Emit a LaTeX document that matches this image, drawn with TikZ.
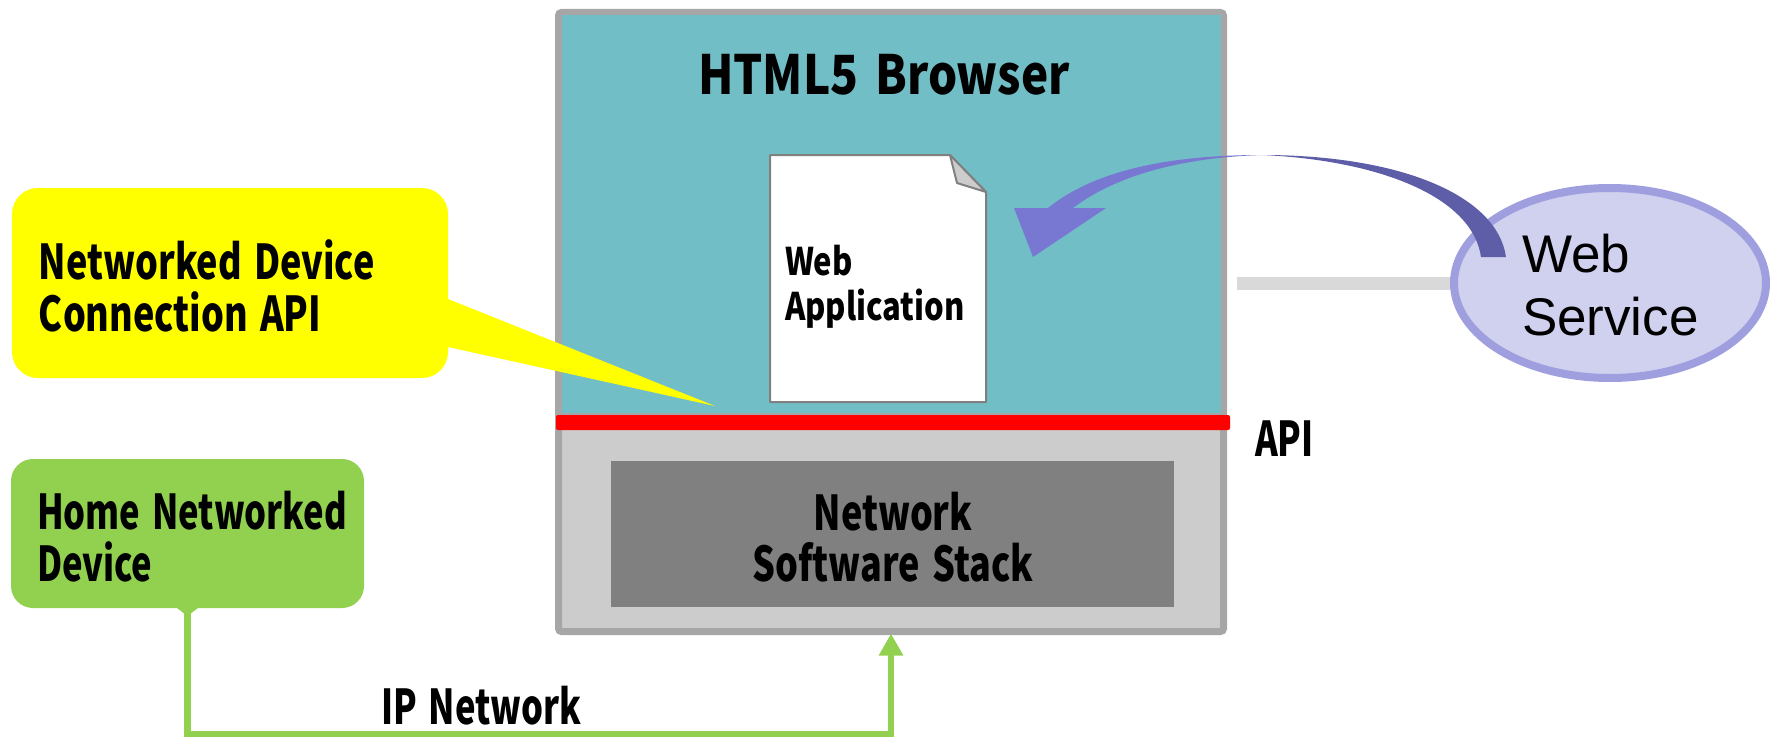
\documentclass[tikz,border=0pt]{standalone}
\usepackage{fontspec}
\setmainfont{Liberation Sans}
\newfontfamily\gothic[FakeStretch=0.75,WordSpace=1.5]{Noto Sans CJK JP}
\newfontfamily\gothicn[FakeStretch=0.72,WordSpace=1.5]{Noto Sans CJK JP}
\newfontfamily\gothicw[FakeStretch=0.85,WordSpace=1.6]{Noto Sans CJK JP}
\newfontfamily\gothicd[FakeStretch=0.815,WordSpace=1.6]{Noto Sans CJK JP}
\usetikzlibrary{arrows.meta,shapes.geometric}
\definecolor{teal1}{HTML}{72BEC6}
\definecolor{frame}{HTML}{A6A6A6}
\definecolor{panel}{HTML}{CCCCCC}
\definecolor{stackgray}{HTML}{808080}
\definecolor{greenbox}{HTML}{92D050}
\definecolor{svcfill}{HTML}{D0D0EF}
\definecolor{svcline}{HTML}{9F9FDF}
\definecolor{arcl}{HTML}{7878D2}
\definecolor{arcd}{HTML}{5E5EA8}
\definecolor{barg}{HTML}{D9D9D9}
\definecolor{callout}{HTML}{FFFF00}
\definecolor{apired}{HTML}{FF0000}
\tikzset{
  plain/.style={inner sep=0pt,outer sep=0pt,anchor=center},
  lab/.style={inner sep=0pt,outer sep=0pt,anchor=base west,align=left,text=black,font=\gothic\bfseries\fontsize{24}{26}\selectfont},
  labn/.style={lab,font=\gothicn\bfseries\fontsize{24}{26}\selectfont},
  labc/.style={inner sep=0pt,outer sep=0pt,anchor=base,align=center,text=black,font=\gothic\bfseries\fontsize{24}{25.5}\selectfont},
}
\begin{document}
\begin{tikzpicture}[x=0.5pt,y=-0.5pt]
\useasboundingbox (0,0) rectangle (1770,738);
% web-service link bar
\node[plain,fill=barg,minimum width=108.5pt,minimum height=6.5pt] (bar) at (1345.5,283.5) {};
% browser
\node[plain,draw=frame,fill=panel,line width=3.5pt,rounded corners=1.5pt,minimum width=332.5pt,minimum height=309.5pt] (brow) at (891,322) {};
\node[plain,fill=frame,minimum width=332.5pt,minimum height=2pt] (divider) at (891,413) {};
\node[plain,fill=teal1,minimum width=329.5pt,minimum height=198.5pt] (pane) at (891,214) {};
\node[plain,fill=apired,rounded corners=1pt,minimum width=337pt,minimum height=7.5pt] (redbar) at (893,422.5) {};
\node[plain,fill=stackgray,minimum width=281.5pt,minimum height=73pt] (stack) at (892.5,534) {};
% document
\coordinate (f1) at (950,155);
\coordinate (f2) at (986,192);
\coordinate (f3) at (957,183);
\node[plain,minimum width=108pt,minimum height=123.5pt] (doc) at (878,278.5) {};
\draw[draw=stackgray,fill=white,line width=1pt,line join=round] (doc.north west) -- (f1) -- (f2) -- (doc.south east) -- (doc.south west) -- cycle;
\draw[draw=stackgray,fill=panel,line width=1pt,line join=round] (f1) -- (f3) -- (f2) -- cycle;
% yellow call-out
\node[plain,fill=callout,rounded corners=13pt,minimum width=218pt,minimum height=95pt] (call) at (230,283) {};
\coordinate (calltip) at (715,406);
\fill[callout] (call.east |- 0,299) -- (calltip) -- (call.east |- 0,347) -- cycle;
% green box
\node[plain,fill=greenbox,rounded corners=11pt,minimum width=176.5pt,minimum height=74.5pt] (home) at (187.5,533.5) {};
\fill[greenbox] ([xshift=-5.25pt]home.south) -- ([yshift=-4pt]home.south) -- ([xshift=5.25pt]home.south) -- cycle;
\coordinate (netlow) at (500,734);
\coordinate (browtip) at ([yshift=-1pt]brow.south);
\draw[greenbox,line width=3.3pt,-{Triangle[length=11pt,width=11.5pt]}] (home.south) |- (netlow -| brow.south) -- (browtip);
% web service
\node[plain,draw=svcline,fill=svcfill,ellipse,line width=4pt,minimum width=156pt,minimum height=95pt] (svc) at (1610,283) {};
% curved arrow
\coordinate (apex) at (1262,155);
\fill[arcd] (1506,257) .. controls (1497,195) and (1400,155) .. (apex) .. controls (1375,160) and (1472,195) .. (1481,257) -- cycle;
\fill[arcl] (apex) .. controls (1170,155) and (1095,170) .. (1048,208) -- (1014,208) -- (1033,257) -- (1106,208) -- (1073,208) .. controls (1110,180) and (1170,158) .. (apex) -- cycle;
% labels
\node[labc,font=\gothicw\bfseries\fontsize{27}{30}\selectfont] (t1) at (884,95) {HTML5 Browser};
\node[lab,font=\gothicd\bfseries\fontsize{19}{22.5}\selectfont] (t2) at (785,320) {Web\\Application};
\node[lab] (t3) at (39,331) {Networked Device\\Connection API};
\node[labn] (t4) at (37,581) {Home Networked\\Device};
\node[labc] (t5) at (893,581) {Network\\Software Stack};
\node[labn] (t6) at (381,724) {IP Network};
\node[labn] (t7) at (1255,456) {API};
\node[inner sep=0pt,outer sep=0pt,anchor=base west,align=left,font=\fontsize{26.5}{31.5}\selectfont] (t8) at (1522,335) {Web\\Service};
\end{tikzpicture}
\end{document}
